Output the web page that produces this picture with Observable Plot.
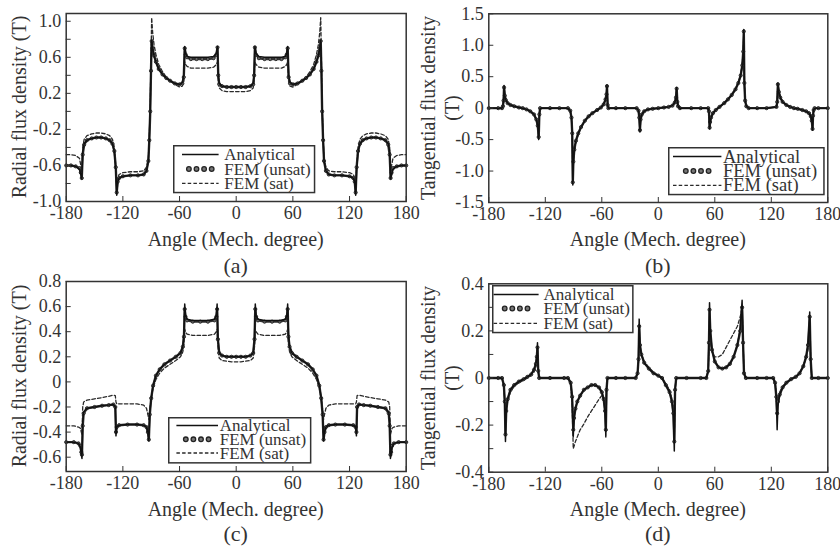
<!DOCTYPE html>
<html><head><meta charset="utf-8">
<script src="https://cdn.jsdelivr.net/npm/d3@7"></script>
<script src="https://cdn.jsdelivr.net/npm/@observablehq/plot@0.6"></script>
<style>
body{margin:0;background:#fff;}
#root{position:relative;width:840px;height:553px;overflow:hidden;font-family:"Liberation Serif","Times New Roman",serif;color:#333;background:#fff;}
.lbl{position:absolute;white-space:nowrap;font-size:20px;line-height:1;transform:translate(-50%,-50%);}
.rot{transform:translate(-50%,-50%) rotate(-90deg);}
.pan{position:absolute;}
.leg{position:absolute;overflow:visible;}
</style></head>
<body><div id="root"></div>
<script>
// ---------- shared axis ----------
const xTicks = [-180, -120, -60, 0, 60, 120, 180];
const xLabels = ["-180", "-120", "-60", "0", "60", "120", "180"];
const seriesNames = ["Analytical", "FEM (unsat)", "FEM (sat)"];
const xTitle = "Angle (Mech. degree)";

// ---------- panel (a): radial flux density ----------
const aAng = [-180,-175,-170,-166,-164.5,-163.5,-162.5,-161,-158,-153,-148,-143,-138,-134,-131,-129,-127.5,-126.5,-125.5,-124,-120,-112,-104,-98,-95,-93,-92,-91,-90.2,-89.5,-88.5,-87,-85,-82,-78,-74,-70,-65,-60,-57,-55.5,-54.5,-53.5,-52,-48,-42,-36,-30,-24,-21,-19.8,-19,-18,-15,-10,-5,0,
5,10,15,18,19,19.8,21,24,30,36,42,48,52,53.5,54.5,55.5,57,60,65,70,74,78,82,85,87,88.5,89.5,90.2,91,92,93,95,98,104,112,120,124,125.5,126.5,127.5,129,131,134,138,143,148,153,158,161,162.5,163.5,164.5,166,170,175,180];
const aAna = [-0.60,-0.60,-0.61,-0.64,-0.70,-0.75,-0.45,-0.36,-0.32,-0.30,-0.29,-0.29,-0.30,-0.32,-0.36,-0.45,-0.65,-0.93,-0.78,-0.74,-0.72,-0.71,-0.71,-0.70,-0.66,-0.55,-0.30,0.05,0.50,0.79,0.70,0.62,0.55,0.47,0.41,0.37,0.34,0.31,0.30,0.32,0.40,0.72,0.64,0.61,0.60,0.60,0.60,0.60,0.61,0.64,0.72,0.40,0.31,0.28,0.27,0.27,0.27,
0.27,0.27,0.28,0.31,0.40,0.72,0.64,0.61,0.60,0.60,0.60,0.60,0.61,0.64,0.72,0.40,0.32,0.30,0.31,0.34,0.37,0.41,0.47,0.55,0.62,0.70,0.79,0.50,0.05,-0.30,-0.55,-0.66,-0.70,-0.71,-0.71,-0.72,-0.74,-0.78,-0.93,-0.65,-0.45,-0.36,-0.32,-0.30,-0.29,-0.29,-0.30,-0.32,-0.36,-0.45,-0.75,-0.70,-0.64,-0.61,-0.60,-0.60];
const aUns = [-0.60,-0.60,-0.61,-0.63,-0.68,-0.74,-0.48,-0.37,-0.32,-0.30,-0.29,-0.29,-0.30,-0.32,-0.36,-0.44,-0.62,-0.90,-0.78,-0.74,-0.72,-0.71,-0.71,-0.70,-0.66,-0.55,-0.32,0.00,0.45,0.78,0.70,0.62,0.55,0.47,0.41,0.37,0.34,0.31,0.30,0.31,0.38,0.70,0.63,0.60,0.58,0.58,0.58,0.58,0.59,0.63,0.71,0.40,0.30,0.28,0.27,0.27,0.27,
0.27,0.27,0.28,0.30,0.40,0.71,0.63,0.59,0.58,0.58,0.58,0.58,0.60,0.63,0.70,0.38,0.31,0.30,0.31,0.34,0.37,0.41,0.47,0.55,0.62,0.70,0.78,0.45,0.00,-0.32,-0.55,-0.66,-0.70,-0.71,-0.71,-0.72,-0.74,-0.78,-0.90,-0.62,-0.44,-0.36,-0.32,-0.30,-0.29,-0.29,-0.30,-0.32,-0.37,-0.48,-0.74,-0.68,-0.63,-0.61,-0.60,-0.60];
const aSat = [-0.48,-0.48,-0.49,-0.52,-0.60,-0.70,-0.40,-0.31,-0.27,-0.25,-0.24,-0.24,-0.25,-0.27,-0.31,-0.40,-0.60,-0.85,-0.74,-0.70,-0.68,-0.67,-0.67,-0.66,-0.62,-0.52,-0.28,0.05,0.60,1.04,0.88,0.74,0.63,0.52,0.44,0.38,0.34,0.30,0.27,0.28,0.33,0.55,0.52,0.50,0.48,0.48,0.48,0.48,0.49,0.52,0.55,0.33,0.26,0.23,0.22,0.22,0.22,
0.22,0.22,0.23,0.26,0.33,0.55,0.52,0.49,0.48,0.48,0.48,0.48,0.50,0.52,0.55,0.33,0.28,0.27,0.30,0.34,0.38,0.44,0.52,0.63,0.74,0.88,1.04,0.60,0.05,-0.28,-0.52,-0.62,-0.66,-0.67,-0.67,-0.68,-0.70,-0.74,-0.85,-0.60,-0.40,-0.31,-0.27,-0.25,-0.24,-0.24,-0.25,-0.27,-0.31,-0.40,-0.70,-0.60,-0.52,-0.49,-0.48,-0.48];
const aYTicks = [-1.0, -0.6, -0.2, 0.2, 0.6, 1.0];
const aYLabels = ["-1.0", "-0.6", "-0.2", "0.2", "0.6", "1.0"];
const aYMinor = [-0.8, -0.4, 0, 0.4, 0.8];

// ---------- panel (b): tangential flux density ----------
const bAng = [-180,-170,-166,-165,-164.3,-163.8,-163,-162,-160,-157,-153,-148,-144,-140,-136,-132,-129.5,-128,-127,-126.3,-125.5,-115,-105,-96,-93.5,-92.2,-91.4,-90.8,-90.2,-89.2,-87.5,-85,-82,-78,-74,-70,-65,-61,-58,-56,-55,-54.5,-53.8,-53,-45,-35,-23,-21,-20.2,-19.5,-18.8,-17.5,-15,-11,-6,0,
6,11,15,17.5,18.8,19.5,20.2,21,23,35,45,53,53.8,54.5,55,56,58,61,65,70,74,78,82,85,87.5,89.2,90.2,90.8,91.4,92.2,93.5,96,105,115,125.5,126.3,127,128,129.5,132,136,140,144,148,153,157,160,162,163,163.8,164.3,165,166,170,180];
const bAna = [0,0,0,0.03,0.12,0.36,0.20,0.13,0.08,0.05,0.03,0.01,0,-0.02,-0.05,-0.10,-0.18,-0.28,-0.50,-0.10,0,0,0,0,-0.04,-0.15,-0.40,-1.22,-0.85,-0.66,-0.52,-0.40,-0.30,-0.20,-0.13,-0.08,-0.03,0.01,0.06,0.14,0.22,0.37,0.05,0,0,0,0,-0.04,-0.15,-0.38,-0.18,-0.10,-0.05,-0.02,-0.01,0,
0.01,0.02,0.04,0.09,0.17,0.33,0.10,0.03,0,0,0,0,-0.05,-0.33,-0.22,-0.15,-0.08,-0.03,0.02,0.08,0.14,0.21,0.30,0.40,0.52,0.68,0.90,1.25,0.40,0.12,0.03,0,0,0,0.02,0.10,0.40,0.26,0.17,0.10,0.05,0.02,0,-0.01,-0.03,-0.05,-0.08,-0.13,-0.20,-0.35,-0.12,-0.03,0,0,0];
const bUns = [0,0,0,0.03,0.12,0.33,0.20,0.13,0.08,0.05,0.03,0.01,0,-0.02,-0.05,-0.10,-0.18,-0.28,-0.46,-0.10,0,0,0,0,-0.04,-0.15,-0.40,-1.18,-0.85,-0.66,-0.52,-0.40,-0.30,-0.20,-0.13,-0.08,-0.03,0.01,0.06,0.14,0.22,0.35,0.05,0,0,0,0,-0.04,-0.15,-0.35,-0.18,-0.10,-0.05,-0.02,-0.01,0,
0.01,0.02,0.04,0.09,0.17,0.31,0.10,0.03,0,0,0,0,-0.05,-0.31,-0.22,-0.15,-0.08,-0.03,0.02,0.08,0.14,0.21,0.30,0.40,0.52,0.68,0.90,1.22,0.40,0.12,0.03,0,0,0,0.02,0.10,0.38,0.26,0.17,0.10,0.05,0.02,0,-0.01,-0.03,-0.05,-0.08,-0.13,-0.20,-0.33,-0.12,-0.03,0,0,0];
const bSat = [0,0,0,0.03,0.11,0.32,0.21,0.14,0.09,0.05,0.03,0.01,0,-0.02,-0.05,-0.11,-0.19,-0.29,-0.45,-0.10,0,0,0,0,-0.04,-0.16,-0.42,-1.15,-0.87,-0.68,-0.54,-0.42,-0.31,-0.21,-0.14,-0.08,-0.03,0.01,0.06,0.15,0.23,0.34,0.05,0,0,0,0,-0.04,-0.14,-0.33,-0.18,-0.10,-0.05,-0.02,-0.01,0,
0.01,0.02,0.04,0.10,0.18,0.30,0.10,0.03,0,0,0,0,-0.05,-0.30,-0.23,-0.16,-0.09,-0.03,0.02,0.08,0.15,0.22,0.31,0.42,0.54,0.70,0.92,1.18,0.42,0.12,0.03,0,0,0,0.02,0.10,0.36,0.27,0.18,0.10,0.05,0.02,0,-0.01,-0.03,-0.05,-0.09,-0.14,-0.21,-0.32,-0.12,-0.03,0,0,0];
const bYTicks = [-1.5, -1.0, -0.5, 0, 0.5, 1.0, 1.5];
const bYLabels = ["-1.5", "-1.0", "-0.5", "0", "0.5", "1.0", "1.5"];

// ---------- panel (c): radial flux density ----------
const cAng = [-180,-172,-167,-165,-164,-163.3,-162.5,-161.5,-158,-150,-142,-135,-130,-128,-127.3,-126.5,-124,-115,-105,-98,-95,-93.5,-92.5,-91.5,-90,-88,-85,-81,-76,-70,-64,-59,-56.5,-55.3,-54.5,-53.7,-52,-46,-38,-30,-23,-21,-20.2,-19.4,-18,-15,-10,-5,0,
5,10,15,18,19.4,20.2,21,23,30,38,46,52,53.7,54.5,55.3,56.5,59,64,70,76,81,85,88,90,91.5,92.5,93.5,95,98,105,115,124,126.5,127.3,128,130,135,142,150,158,161.5,162.5,163.3,164,165,167,172,180];
const cAna = [-0.48,-0.48,-0.49,-0.52,-0.58,-0.61,-0.32,-0.24,-0.21,-0.20,-0.19,-0.185,-0.18,-0.20,-0.43,-0.36,-0.345,-0.34,-0.34,-0.345,-0.36,-0.40,-0.47,-0.25,-0.13,-0.03,0.05,0.10,0.14,0.17,0.20,0.23,0.28,0.38,0.62,0.53,0.50,0.49,0.49,0.49,0.50,0.53,0.62,0.35,0.23,0.21,0.20,0.20,0.20,
0.20,0.20,0.21,0.23,0.35,0.62,0.53,0.50,0.49,0.49,0.49,0.50,0.53,0.62,0.38,0.28,0.23,0.20,0.17,0.14,0.10,0.05,-0.03,-0.13,-0.25,-0.47,-0.40,-0.36,-0.345,-0.34,-0.34,-0.345,-0.36,-0.43,-0.20,-0.18,-0.185,-0.19,-0.20,-0.21,-0.24,-0.32,-0.61,-0.58,-0.52,-0.49,-0.48,-0.48];
const cUns = [-0.48,-0.48,-0.49,-0.51,-0.56,-0.58,-0.35,-0.25,-0.21,-0.20,-0.19,-0.185,-0.18,-0.20,-0.40,-0.36,-0.345,-0.34,-0.34,-0.345,-0.36,-0.40,-0.46,-0.26,-0.13,-0.03,0.05,0.10,0.14,0.17,0.20,0.23,0.28,0.36,0.58,0.52,0.49,0.48,0.48,0.48,0.49,0.52,0.58,0.34,0.23,0.21,0.20,0.20,0.20,
0.20,0.20,0.21,0.23,0.34,0.58,0.52,0.49,0.48,0.48,0.48,0.49,0.52,0.58,0.36,0.28,0.23,0.20,0.17,0.14,0.10,0.05,-0.03,-0.13,-0.26,-0.46,-0.40,-0.36,-0.345,-0.34,-0.34,-0.345,-0.36,-0.40,-0.20,-0.18,-0.185,-0.19,-0.20,-0.21,-0.25,-0.35,-0.58,-0.56,-0.51,-0.49,-0.48,-0.48];
const cSat = [-0.35,-0.35,-0.36,-0.37,-0.40,-0.42,-0.20,-0.16,-0.145,-0.135,-0.125,-0.115,-0.105,-0.11,-0.16,-0.175,-0.175,-0.175,-0.175,-0.185,-0.21,-0.26,-0.30,-0.22,-0.13,-0.05,0.02,0.07,0.11,0.14,0.17,0.20,0.24,0.30,0.42,0.40,0.38,0.37,0.37,0.37,0.38,0.40,0.42,0.28,0.19,0.17,0.165,0.16,0.16,
0.16,0.165,0.17,0.19,0.28,0.42,0.40,0.38,0.37,0.37,0.37,0.38,0.40,0.42,0.30,0.24,0.20,0.17,0.14,0.11,0.07,0.02,-0.05,-0.13,-0.22,-0.30,-0.26,-0.21,-0.185,-0.175,-0.175,-0.175,-0.175,-0.16,-0.11,-0.105,-0.115,-0.125,-0.135,-0.145,-0.16,-0.20,-0.42,-0.40,-0.37,-0.36,-0.35,-0.35];
const cYTicks = [-0.6, -0.4, -0.2, 0, 0.2, 0.4, 0.6, 0.8];
const cYLabels = ["-0.6", "-0.4", "-0.2", "0", "0.2", "0.4", "0.6", "0.8"];

// ---------- panel (d): tangential flux density ----------
const dAng = [-180,-170,-166,-164,-163,-162.3,-161.5,-160,-157,-153,-148,-143,-139,-135,-132,-130,-129,-128.3,-127.5,-126.5,-115,-100,-96,-93,-91.5,-90.3,-89.5,-88,-86,-83,-79,-75,-71,-67,-63,-60,-58,-56.5,-55.7,-55,-54,-45,-35,-24,-22,-21,-20.3,-19.5,-18,-15,-10,-5,0,4,8,12,14.5,16,17,17.8,19,30,45,51,53,53.8,54.4,55.2,57,60,64,68,72,76,80,84,87,89,90,91,93,105,115,122,124,125.3,126.2,127,129,132,136,141,146,150,154,157,159,160.8,161.8,163,170,180];
const dAna = [0,0,0,-0.03,-0.12,-0.27,-0.14,-0.09,-0.05,-0.03,
-0.015,-0.005,0.005,0.015,0.035,0.06,0.09,0.15,0.03,0,
0,0,0,-0.02,-0.08,-0.25,-0.17,-0.13,-0.10,-0.075,
-0.05,-0.04,-0.03,-0.03,-0.04,-0.06,-0.09,-0.15,-0.25,-0.05,
0,0,0,0,0.02,0.08,0.25,0.14,0.10,0.065,
0.04,0.02,0.01,0,-0.03,-0.06,-0.10,-0.16,-0.31,-0.05,
0,0,0,0,0.03,0.16,0.32,0.20,0.12,0.07,
0.045,0.04,0.045,0.06,0.09,0.14,0.21,0.33,0.15,0.02,
0,0,0,0,-0.02,-0.08,-0.22,-0.12,-0.07,-0.04,
-0.02,-0.005,0.005,0.02,0.05,0.09,0.14,0.28,0.08,0,
0,0];
const dUns = [0,0,0,-0.03,-0.10,-0.24,-0.14,-0.09,-0.05,-0.03,
-0.015,-0.005,0.005,0.015,0.035,0.06,0.09,0.13,0.03,0,
0,0,0,-0.02,-0.08,-0.22,-0.17,-0.13,-0.10,-0.075,
-0.05,-0.04,-0.03,-0.03,-0.04,-0.06,-0.09,-0.14,-0.22,-0.05,
0,0,0,0,0.02,0.08,0.22,0.14,0.10,0.065,
0.04,0.02,0.01,0,-0.03,-0.06,-0.10,-0.15,-0.27,-0.05,
0,0,0,0,0.03,0.15,0.29,0.20,0.12,0.07,
0.045,0.04,0.045,0.06,0.09,0.14,0.20,0.30,0.15,0.02,
0,0,0,0,-0.02,-0.08,-0.15,-0.10,-0.07,-0.04,
-0.02,-0.005,0.005,0.02,0.05,0.09,0.14,0.26,0.08,0,
0,0];
const dSat = [0,0,0,-0.03,-0.10,-0.20,-0.14,-0.10,-0.06,-0.035,
-0.02,-0.01,0,0.01,0.025,0.045,0.07,0.10,0.03,0,
0,0,0,-0.03,-0.12,-0.30,-0.29,-0.27,-0.25,-0.22,
-0.195,-0.165,-0.14,-0.115,-0.09,-0.075,-0.08,-0.11,-0.18,-0.04,
0,0,0,0,0.02,0.07,0.20,0.13,0.10,0.07,
0.045,0.025,0.01,0,-0.025,-0.05,-0.09,-0.14,-0.25,-0.05,
0,0,0,0,0.03,0.12,0.18,0.15,0.11,0.09,
0.09,0.10,0.13,0.16,0.19,0.22,0.26,0.30,0.16,0.02,
0,0,0,0,-0.02,-0.06,-0.10,-0.08,-0.06,-0.035,
-0.02,-0.005,0.005,0.02,0.05,0.09,0.12,0.22,0.08,0,
0,0];
const dYTicks = [-0.4, -0.2, 0, 0.2, 0.4];
const dYLabels = ["-0.4", "-0.2", "0", "0.2", "0.4"];
const dYMinor = [-0.3, -0.1, 0.1, 0.3];

// ---------- build ----------
const root = document.getElementById("root");
const INK = "#2a2a2a";

function fmtFrom(ticks, labels) {
  return d => { const i = ticks.findIndex(t => Math.abs(t - d) < 1e-9); return i < 0 ? "" : labels[i]; };
}

function makePanel(cfg) {
  const rows = vals => cfg.ang.map((a, i) => ({a, v: vals[i]})).filter(d => d.v !== undefined);
  const A = rows(cfg.ana), U = rows(cfg.uns), S = rows(cfg.sat);
  const marks = [
    Plot.line(S, {x: "a", y: "v", stroke: INK, strokeWidth: 1.3, strokeDasharray: "3.5,2.2"}),
    Plot.line(U, {x: "a", y: "v", stroke: "#333", strokeWidth: 2.4}),
    Plot.dot(U, {x: "a", y: "v", r: 1.6, stroke: "#222", strokeWidth: 0.9, fill: "#666"}),
    Plot.line(A, {x: "a", y: "v", stroke: "#111", strokeWidth: 1.5}),
    Plot.axisX({ticks: xTicks, tickFormat: fmtFrom(xTicks, xLabels), tickSize: -5, tickPadding: 10, label: null, fontSize: 18}),
    Plot.axisY({ticks: cfg.yTicks, tickFormat: fmtFrom(cfg.yTicks, cfg.yLabels), tickSize: -5, tickPadding: 10, label: null, fontSize: 18})
  ];
  if (cfg.yMinor) marks.push(Plot.axisY({ticks: cfg.yMinor, tickFormat: () => "", tickSize: -5, label: null}));
  marks.push(Plot.frame({stroke: "#333", strokeWidth: 1.5}));
  const svg = Plot.plot({
    width: cfg.w, height: cfg.h,
    marginLeft: cfg.ml, marginRight: cfg.mr, marginTop: cfg.mt, marginBottom: cfg.mb,
    x: {domain: [-180, 180]},
    y: {domain: cfg.yDomain},
    style: {fontFamily: '"Liberation Serif", "Times New Roman", serif', fontSize: "18px", color: "#333", background: "transparent", overflow: "visible"},
    marks
  });
  const wrap = document.createElement("div");
  wrap.className = "pan";
  wrap.style.left = cfg.left + "px";
  wrap.style.top = cfg.top + "px";
  wrap.appendChild(svg);
  root.appendChild(wrap);
}

function addText(txt, x, y, rot, size) {
  const d = document.createElement("div");
  d.className = "lbl" + (rot ? " rot" : "");
  d.style.left = x + "px"; d.style.top = y + "px";
  if (size) d.style.fontSize = size + "px";
  d.textContent = txt;
  root.appendChild(d);
}

function addLegend(L) {
  const svg = d3.create("svg").attr("width", L.w).attr("height", L.h)
    .attr("class", "leg").style("left", L.left + "px").style("top", L.top + "px");
  svg.append("rect").attr("x", 0.75).attr("y", 0.75).attr("width", L.w - 1.5).attr("height", L.h - 1.5)
    .attr("fill", "#fff").attr("stroke", "#333").attr("stroke-width", 1.5);
  const mid = (L.x0 + L.x1) / 2;
  svg.append("line").attr("x1", L.x0).attr("x2", L.x1).attr("y1", L.rows[0]).attr("y2", L.rows[0]).attr("stroke", "#111").attr("stroke-width", 1.6);
  [-1.5, -0.5, 0.5, 1.5].forEach(k => svg.append("circle").attr("cx", mid + k * 7.6).attr("cy", L.rows[1]).attr("r", 2.3)
    .attr("fill", "#777").attr("stroke", "#222").attr("stroke-width", 1.3));
  svg.append("line").attr("x1", L.x0).attr("x2", L.x1).attr("y1", L.rows[2]).attr("y2", L.rows[2]).attr("stroke", INK).attr("stroke-width", 1.3).attr("stroke-dasharray", "3.5,2.2");
  seriesNames.forEach((s, i) => svg.append("text").attr("x", L.tx).attr("y", L.rows[i]).attr("dy", "0.33em")
    .attr("font-family", '"Liberation Serif", "Times New Roman", serif').attr("font-size", L.fs).attr("fill", "#333").text(s));
  root.appendChild(svg.node());
}

makePanel({left: 0, top: 0, w: 420, h: 270, ml: 65.7, mr: 14.3, mt: 13, mb: 69, yDomain: [-1.0, 1.086],
  ang: aAng, ana: aAna, uns: aUns, sat: aSat, yTicks: aYTicks, yLabels: aYLabels, yMinor: aYMinor});
makePanel({left: 420, top: 0, w: 420, h: 270, ml: 68.3, mr: 12.7, mt: 13.3, mb: 68, yDomain: [-1.5, 1.5],
  ang: bAng, ana: bAna, uns: bUns, sat: bSat, yTicks: bYTicks, yLabels: bYLabels});
makePanel({left: 0, top: 270, w: 420, h: 283, ml: 65.7, mr: 14.3, mt: 11, mb: 82, yDomain: [-0.714, 0.8],
  ang: cAng, ana: cAna, uns: cUns, sat: cSat, yTicks: cYTicks, yLabels: cYLabels});
makePanel({left: 420, top: 270, w: 420, h: 283, ml: 68.3, mr: 12.7, mt: 13.3, mb: 81.3, yDomain: [-0.4, 0.4],
  ang: dAng, ana: dAna, uns: dUns, sat: dSat, yTicks: dYTicks, yLabels: dYLabels, yMinor: dYMinor});

addLegend({left: 172.7, top: 145, w: 142.3, h: 48.3, rows: [9.5, 24, 38.3], x0: 9, x1: 45.6, tx: 51.3, fs: 17});
addLegend({left: 668.3, top: 146.7, w: 156.7, h: 48.3, rows: [9.5, 24, 38.3], x0: 5, x1: 53.4, tx: 55, fs: 18.5});
addLegend({left: 168.3, top: 416.7, w: 143.4, h: 46.6, rows: [8.5, 22.3, 36], x0: 8.4, x1: 50, tx: 51.7, fs: 17});
addLegend({left: 491.7, top: 285, w: 141.6, h: 48.3, rows: [9.5, 23.5, 38.3], x0: 1.6, x1: 46.6, tx: 51.6, fs: 17});

addText(xTitle, 235.7, 239, false);
addText(xTitle, 657.8, 239, false);
addText(xTitle, 235.7, 508.5, false);
addText(xTitle, 657.8, 508.5, false);
addText("(a)", 235.7, 266, false, 22);
addText("(b)", 657.8, 266, false, 22);
addText("(c)", 235.7, 534, false, 22);
addText("(d)", 657.8, 534, false, 22);
addText("Radial flux density (T)", 19, 107, true);
addText("Radial flux density (T)", 19, 376, true);
addText("Tangential flux density", 428, 107.6, true);
addText("(T)", 451.5, 107.6, true);
addText("Tangential flux density", 428, 377.5, true);
addText("(T)", 451.5, 377.5, true);
</script>
</body></html>
